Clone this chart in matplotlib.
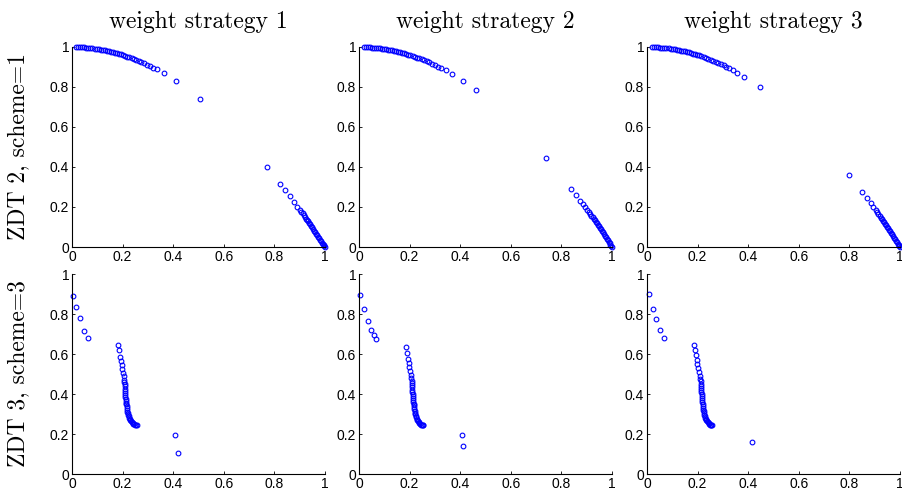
import matplotlib

matplotlib.use("Agg")
import matplotlib.pyplot as plt
from matplotlib.ticker import FuncFormatter

COLUMN_TITLES = ["weight strategy 1", "weight strategy 2", "weight strategy 3"]
ROW_TITLES = ["ZDT 2, scheme=1", "ZDT 3, scheme=3"]
TICKS = [0, 0.2, 0.4, 0.6, 0.8, 1]

# (f1, f2) points
ZDT2_W1 = [
    (0.017, 1.000), (0.025, 0.999), (0.033, 0.999), (0.041, 0.998), (0.049, 0.998),
    (0.057, 0.997), (0.065, 0.996), (0.073, 0.995), (0.081, 0.993), (0.089, 0.992),
    (0.097, 0.991), (0.105, 0.989), (0.113, 0.987), (0.121, 0.985), (0.129, 0.983),
    (0.137, 0.981), (0.145, 0.979), (0.153, 0.977), (0.161, 0.974), (0.169, 0.971),
    (0.177, 0.969), (0.185, 0.966), (0.193, 0.963), (0.201, 0.960), (0.209, 0.956),
    (0.218, 0.952), (0.227, 0.948), (0.236, 0.944), (0.245, 0.940), (0.254, 0.935),
    (0.263, 0.931), (0.274, 0.925), (0.286, 0.918), (0.297, 0.912), (0.309, 0.905),
    (0.321, 0.897), (0.334, 0.888), (0.363, 0.868), (0.413, 0.829), (0.505, 0.742),
    (0.771, 0.400), (0.824, 0.315), (0.843, 0.283), (0.861, 0.253), (0.878, 0.223),
    (0.891, 0.202), (0.901, 0.187), (0.907, 0.177), (0.912, 0.168), (0.917, 0.159),
    (0.922, 0.150), (0.926, 0.142), (0.930, 0.135), (0.934, 0.128), (0.938, 0.120),
    (0.942, 0.113), (0.946, 0.105), (0.950, 0.098), (0.954, 0.090), (0.958, 0.082),
    (0.962, 0.075), (0.966, 0.067), (0.970, 0.059), (0.974, 0.051), (0.978, 0.043),
    (0.982, 0.036), (0.986, 0.028), (0.990, 0.020), (0.993, 0.014), (0.996, 0.008),
    (0.998, 0.004), (1.000, 0.000),
]
ZDT2_W2 = [
    (0.018, 1.000), (0.026, 0.999), (0.034, 0.999), (0.042, 0.998), (0.050, 0.997),
    (0.058, 0.997), (0.066, 0.996), (0.074, 0.995), (0.082, 0.993), (0.090, 0.992),
    (0.098, 0.990), (0.106, 0.989), (0.114, 0.987), (0.122, 0.985), (0.130, 0.983),
    (0.138, 0.981), (0.146, 0.979), (0.154, 0.976), (0.162, 0.974), (0.170, 0.971),
    (0.178, 0.968), (0.186, 0.965), (0.194, 0.962), (0.203, 0.959), (0.212, 0.955),
    (0.221, 0.951), (0.230, 0.947), (0.239, 0.943), (0.248, 0.938), (0.258, 0.933),
    (0.268, 0.928), (0.278, 0.923), (0.290, 0.916), (0.301, 0.909), (0.313, 0.902),
    (0.326, 0.894), (0.342, 0.883), (0.366, 0.866), (0.413, 0.829), (0.464, 0.785),
    (0.741, 0.447), (0.838, 0.292), (0.857, 0.262), (0.874, 0.232), (0.886, 0.215),
    (0.895, 0.199), (0.902, 0.187), (0.908, 0.176), (0.913, 0.167), (0.918, 0.157),
    (0.923, 0.148), (0.927, 0.141), (0.931, 0.133), (0.935, 0.126), (0.939, 0.118),
    (0.943, 0.111), (0.947, 0.103), (0.951, 0.096), (0.955, 0.088), (0.959, 0.080),
    (0.963, 0.073), (0.967, 0.065), (0.971, 0.057), (0.975, 0.049), (0.979, 0.042),
    (0.983, 0.034), (0.987, 0.026), (0.991, 0.018), (0.994, 0.012), (0.997, 0.006),
    (1.000, 0.000),
]
ZDT2_W3 = [
    (0.021, 1.000), (0.029, 0.999), (0.037, 0.999), (0.045, 0.998), (0.053, 0.997),
    (0.061, 0.996), (0.069, 0.995), (0.077, 0.994), (0.085, 0.993), (0.093, 0.991),
    (0.101, 0.990), (0.109, 0.988), (0.117, 0.986), (0.125, 0.984), (0.133, 0.982),
    (0.141, 0.980), (0.149, 0.978), (0.157, 0.975), (0.165, 0.973), (0.173, 0.970),
    (0.181, 0.967), (0.189, 0.964), (0.197, 0.961), (0.206, 0.958), (0.215, 0.954),
    (0.224, 0.950), (0.233, 0.946), (0.242, 0.941), (0.251, 0.937), (0.261, 0.932),
    (0.271, 0.927), (0.282, 0.920), (0.293, 0.914), (0.304, 0.908), (0.314, 0.901),
    (0.324, 0.895), (0.339, 0.885), (0.357, 0.872), (0.384, 0.852), (0.447, 0.800),
    (0.800, 0.358), (0.851, 0.273), (0.870, 0.243), (0.884, 0.220), (0.895, 0.199),
    (0.904, 0.187), (0.909, 0.174), (0.914, 0.165), (0.919, 0.156), (0.924, 0.146),
    (0.928, 0.139), (0.932, 0.131), (0.936, 0.124), (0.940, 0.116), (0.944, 0.109),
    (0.948, 0.101), (0.952, 0.094), (0.956, 0.086), (0.960, 0.078), (0.964, 0.071),
    (0.968, 0.063), (0.972, 0.055), (0.976, 0.047), (0.980, 0.040), (0.984, 0.032),
    (0.988, 0.024), (0.992, 0.016), (0.995, 0.010), (0.998, 0.004), (1.000, 0.000),
]
ZDT3_W1 = [
    (0.005, 0.892), (0.016, 0.835), (0.030, 0.780), (0.049, 0.717), (0.063, 0.682),
    (0.181, 0.647), (0.186, 0.618), (0.190, 0.587), (0.194, 0.563), (0.197, 0.543),
    (0.199, 0.523), (0.202, 0.505), (0.205, 0.488), (0.206, 0.472), (0.207, 0.460),
    (0.208, 0.449), (0.208, 0.438), (0.209, 0.427), (0.209, 0.417), (0.210, 0.406),
    (0.211, 0.396), (0.211, 0.386), (0.212, 0.376), (0.213, 0.366), (0.214, 0.357),
    (0.215, 0.348), (0.216, 0.339), (0.217, 0.330), (0.218, 0.321), (0.219, 0.312),
    (0.221, 0.304), (0.222, 0.296), (0.224, 0.288), (0.226, 0.281), (0.228, 0.274),
    (0.231, 0.268), (0.234, 0.263), (0.237, 0.258), (0.240, 0.254), (0.243, 0.251),
    (0.246, 0.248), (0.249, 0.246), (0.252, 0.244), (0.255, 0.243),
    (0.409, 0.195), (0.417, 0.105),
]
ZDT3_W2 = [
    (0.005, 0.893), (0.020, 0.825), (0.034, 0.765), (0.047, 0.720), (0.058, 0.693),
    (0.068, 0.675),
    (0.184, 0.635), (0.188, 0.603), (0.192, 0.575), (0.196, 0.553), (0.199, 0.533),
    (0.201, 0.513), (0.204, 0.495), (0.207, 0.478), (0.208, 0.466), (0.208, 0.455),
    (0.209, 0.444), (0.210, 0.433), (0.210, 0.422), (0.211, 0.411), (0.212, 0.401),
    (0.212, 0.391), (0.213, 0.381), (0.214, 0.371), (0.215, 0.361), (0.216, 0.352),
    (0.217, 0.343), (0.218, 0.334), (0.219, 0.325), (0.220, 0.316), (0.221, 0.307),
    (0.223, 0.299), (0.224, 0.291), (0.226, 0.283), (0.228, 0.276), (0.230, 0.269),
    (0.233, 0.263), (0.236, 0.258), (0.239, 0.254), (0.242, 0.250), (0.245, 0.247),
    (0.248, 0.245), (0.251, 0.244), (0.253, 0.243),
    (0.409, 0.193), (0.413, 0.142),
]
ZDT3_W3 = [
    (0.008, 0.900), (0.022, 0.825), (0.036, 0.773), (0.051, 0.718), (0.066, 0.682),
    (0.184, 0.647), (0.188, 0.620), (0.193, 0.595), (0.196, 0.570), (0.199, 0.550),
    (0.201, 0.530), (0.205, 0.510), (0.208, 0.492), (0.211, 0.475), (0.212, 0.463),
    (0.212, 0.452), (0.213, 0.441), (0.214, 0.430), (0.214, 0.419), (0.215, 0.408),
    (0.216, 0.398), (0.217, 0.388), (0.217, 0.378), (0.218, 0.368), (0.219, 0.358),
    (0.220, 0.349), (0.221, 0.340), (0.222, 0.331), (0.223, 0.322), (0.224, 0.313),
    (0.226, 0.305), (0.227, 0.297), (0.229, 0.289), (0.231, 0.282), (0.233, 0.275),
    (0.235, 0.269), (0.238, 0.263), (0.241, 0.258), (0.244, 0.254), (0.247, 0.250),
    (0.250, 0.247), (0.252, 0.245), (0.254, 0.244), (0.256, 0.243),
    (0.414, 0.162),
]

PANELS = [[ZDT2_W1, ZDT2_W2, ZDT2_W3], [ZDT3_W1, ZDT3_W2, ZDT3_W3]]

W, H = 902, 494
COL_LEFT = [72, 359, 647]
AX_W = 253
ROW_TOP = [47, 274]
AX_H = 200
TITLE_FONT = "cmr10"
TICK_FONT = "Liberation Sans"


def tick_label(v, pos):
    return "%g" % v


def main():
    fig = plt.figure(figsize=(W / 100, H / 100), dpi=100)
    for r in range(2):
        for c in range(3):
            rect = [COL_LEFT[c] / W, 1 - (ROW_TOP[r] + AX_H) / H, AX_W / W, AX_H / H]
            ax = fig.add_axes(rect)
            xs = [p[0] for p in PANELS[r][c]]
            ys = [p[1] for p in PANELS[r][c]]
            ax.plot(xs, ys, "o", mfc="none", mec="#0000ff", ms=3.4, mew=0.8, clip_on=False)
            ax.set_xlim(0, 1)
            ax.set_ylim(0, 1)
            ax.set_xticks(TICKS)
            ax.set_yticks(TICKS)
            ax.xaxis.set_major_formatter(FuncFormatter(tick_label))
            ax.yaxis.set_major_formatter(FuncFormatter(tick_label))
            ax.tick_params(direction="in", length=2.5, width=0.6, labelsize=10, pad=2)
            for lab in ax.get_xticklabels() + ax.get_yticklabels():
                lab.set_fontfamily(TICK_FONT)
            ax.spines["top"].set_visible(False)
            ax.spines["right"].set_visible(False)
            for s in ("left", "bottom"):
                ax.spines[s].set_linewidth(0.8)
            if r == 0:
                ax.set_title(COLUMN_TITLES[c], fontsize=17, family=TITLE_FONT, pad=14)
        yc = 1 - (ROW_TOP[r] + AX_H / 2) / H
        fig.text(18 / W, yc, ROW_TITLES[r], rotation=90, ha="center", va="center",
                 fontsize=17, family=TITLE_FONT)
    fig.savefig("out.png", dpi=100)


if __name__ == "__main__":
    main()
